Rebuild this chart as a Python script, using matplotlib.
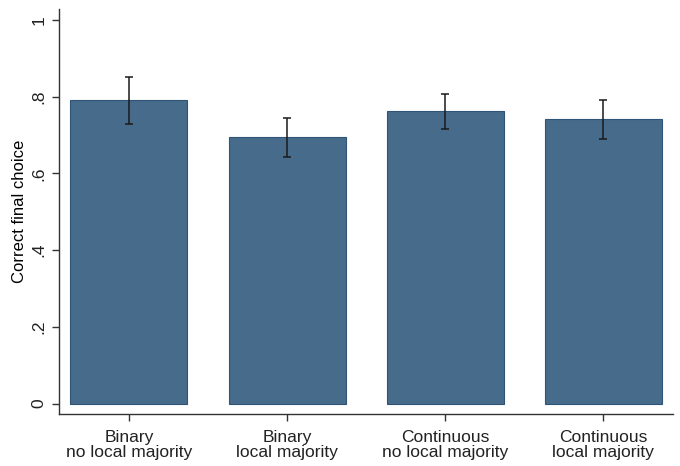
import matplotlib
matplotlib.use("Agg")
import matplotlib.pyplot as plt

plt.rcParams['font.family'] = ['Liberation Sans', 'DejaVu Sans']

categories = ["Binary\nno local majority", "Binary\nlocal majority",
              "Continuous\nno local majority", "Continuous\nlocal majority"]
means = [0.792, 0.695, 0.762, 0.741]
ci_low = [0.729, 0.643, 0.717, 0.690]
ci_high = [0.852, 0.745, 0.808, 0.791]
yticks = [0, 0.2, 0.4, 0.6, 0.8, 1.0]
yticklabels = ["0", ".2", ".4", ".6", ".8", "1"]

fig = plt.figure(figsize=(6.8, 4.66), dpi=100)
ax = fig.add_axes([59.3 / 680, 1 - 414.3 / 466, (673 - 59.3) / 680, (414.3 - 9) / 466])

x = list(range(len(categories)))
yerr = [[m - lo for m, lo in zip(means, ci_low)],
        [hi - m for m, hi in zip(means, ci_high)]]
ax.bar(x, means, width=0.74, color="#476b8b", edgecolor="#2e5578", linewidth=0.8)
ax.errorbar(x, means, yerr=yerr, fmt="none", ecolor="#1a1a1a", elinewidth=1.1,
            capsize=3.0, capthick=1.1)

ax.set_xlim(-0.44, 3.44)
ax.set_ylim(-0.028, 1.029)
ax.set_yticks(yticks)
ax.set_yticklabels(yticklabels, rotation=90, va="center")
ax.set_xticks(x)
ax.set_xticklabels(categories, linespacing=1.05)
ax.set_ylabel("Correct final choice", fontsize=12, labelpad=3.5)

for side in ("top", "right"):
    ax.spines[side].set_visible(False)
for side in ("left", "bottom"):
    ax.spines[side].set_color("#333333")
    ax.spines[side].set_linewidth(1.0)
ax.tick_params(axis="both", direction="out", length=5, width=1, color="#333333",
               labelsize=12.5, labelcolor="#222222")
ax.tick_params(axis="y", pad=4)
ax.tick_params(axis="x", pad=6)

fig.savefig("out.png", dpi=100, facecolor="white")
